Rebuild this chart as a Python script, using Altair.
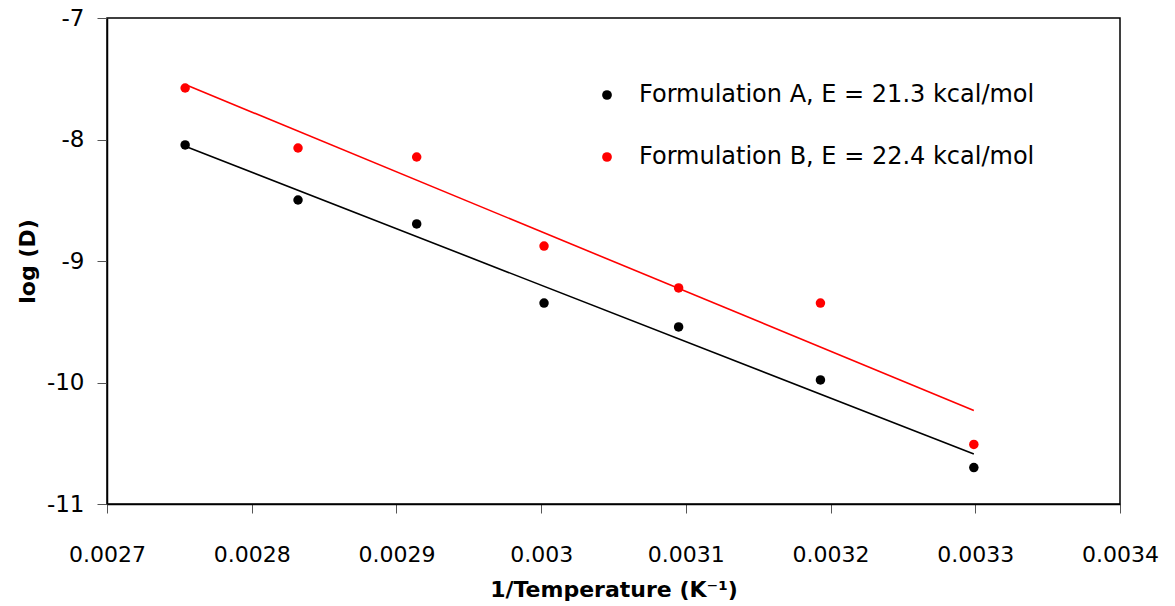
import altair as alt
import pandas as pd

# 1/T for 90, 80, 70, 60, 50, 40, 30 °C
inv_temp = [0.002754, 0.002832, 0.002914, 0.003002, 0.003095, 0.003193, 0.003299]
log_d_a = [-8.045, -8.498, -8.695, -9.346, -9.543, -9.979, -10.70]
log_d_b = [-7.576, -8.070, -8.144, -8.877, -9.222, -9.346, -10.51]

label_a = "Formulation A, E = 21.3 kcal/mol"
label_b = "Formulation B, E = 22.4 kcal/mol"
series_names = [label_a, label_b]
series_colors = ["#000000", "#ff0000"]

x_ticks = [0.0027, 0.0028, 0.0029, 0.003, 0.0031, 0.0032, 0.0033, 0.0034]
y_ticks = [-11, -10, -9, -8, -7]

df = pd.DataFrame(
    {
        "inv_temp": inv_temp + inv_temp,
        "log_d": log_d_a + log_d_b,
        "series": [label_a] * len(inv_temp) + [label_b] * len(inv_temp),
    }
)

tick_font = "DejaVu Sans"
title_font = "DejaVu Sans"

x_enc = alt.X(
    "inv_temp:Q",
    scale=alt.Scale(domain=[0.0027, 0.0034], nice=False, zero=False),
    axis=alt.Axis(
        values=x_ticks,
        labelExpr="datum.value",
        labelFlush=False,
        labelOverlap=False,
        title="1/Temperature (K⁻¹)",
        grid=False,
        tickSize=9,
        tickColor="#555555",
        domainColor="#000000",
        domainWidth=1.5,
        labelPadding=31,
        labelFont=tick_font,
        labelFontSize=22,
        labelColor="#000000",
        titleFont=title_font,
        titleFontSize=22,
        titleFontWeight="bold",
        titleColor="#000000",
        titleY=92,
        titleBaseline="alphabetic",
    ),
)

y_enc = alt.Y(
    "log_d:Q",
    scale=alt.Scale(domain=[-11, -7], nice=False, zero=False),
    axis=alt.Axis(
        values=y_ticks,
        labelExpr="datum.value",
        title="log (D)",
        grid=False,
        tickSize=10,
        tickColor="#555555",
        domainColor="#000000",
        domainWidth=1.5,
        labelPadding=13,
        labelFont=tick_font,
        labelFontSize=23,
        labelColor="#000000",
        titleFont=title_font,
        titleFontSize=22,
        titleFontWeight="bold",
        titleColor="#000000",
        titleX=-80,
        titleY=243,
        titleAngle=270,
        titleBaseline="middle",
    ),
)

points = (
    alt.Chart(df)
    .mark_circle(size=90, opacity=1)
    .encode(
        x=x_enc,
        y=y_enc,
        color=alt.Color(
            "series:N",
            scale=alt.Scale(domain=series_names, range=series_colors),
            legend=alt.Legend(
                title=None,
                orient="none",
                legendX=488,
                legendY=65,
                padding=0,
                symbolType="circle",
                symbolSize=95,
                symbolStrokeWidth=0,
                symbolOpacity=1,
                labelFont=title_font,
                labelFontSize=24,
                labelColor="#000000",
                labelOffset=20,
                rowPadding=38,
                labelLimit=600,
            ),
        ),
    )
)

# least-squares Arrhenius fit per formulation
fits = (
    alt.Chart(df)
    .transform_regression("inv_temp", "log_d", groupby=["series"])
    .transform_calculate(fit_line="datum.series")
    .mark_line(strokeWidth=1.6)
    .encode(
        x="inv_temp:Q",
        y="log_d:Q",
        stroke=alt.Stroke(
            "fit_line:N",
            scale=alt.Scale(domain=series_names, range=series_colors),
            legend=None,
        ),
    )
)

chart = (
    alt.layer(fits, points)
    .resolve_scale(color="independent", stroke="independent")
    .resolve_legend(color="independent", stroke="independent")
    .properties(
        width=1013,
        height=486,
        autosize=alt.AutoSizeParams(type="none"),
        padding={"left": 107, "top": 18, "right": 55, "bottom": 102},
        background="#ffffff",
    )
    .configure_view(stroke="#000000", strokeWidth=1.5)
)

chart.save("out.html", embed_options={"renderer": "svg", "actions": False})
